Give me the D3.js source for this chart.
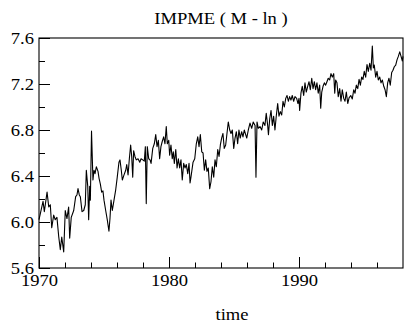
<!DOCTYPE html>
<html><head><meta charset="utf-8">
<script src="https://cdn.jsdelivr.net/npm/d3@7"></script>
<style>
html,body{margin:0;padding:0;background:#fff;}
</style>
</head><body>
<svg id="c" width="404" height="328"></svg>
<script>
const title = "IMPME ( M - ln )";
const xLabel = "time";
const xMajorTicks = [1970, 1980, 1990];
const xMinorTicks = [1972, 1974, 1976, 1978, 1982, 1984, 1986, 1988, 1992, 1994, 1996];
const yMajorTicks = [5.6, 6.0, 6.4, 6.8, 7.2, 7.6];
const yMinorTicks = [5.8, 6.2, 6.6, 7.0, 7.4];
const years = [
1970.00,1970.31,1970.41,1970.62,1970.75,1970.87,1970.98,1971.13,1971.25,1971.38,1971.52,1971.64,1971.75,1971.90,
1972.02,1972.15,1972.28,1972.36,1972.48,1972.67,1972.82,1972.92,1973.00,1973.10,1973.18,1973.31,1973.44,1973.56,
1973.64,1973.75,1973.82,1973.90,1973.95,1974.04,1974.15,1974.23,1974.31,1974.41,1974.54,1974.62,1974.72,1974.82,
1974.92,1975.00,1975.13,1975.25,1975.38,1975.46,1975.54,1975.64,1975.77,1975.90,1976.02,1976.15,1976.23,1976.33,
1976.41,1976.54,1976.67,1976.75,1976.85,1976.95,1977.05,1977.13,1977.21,1977.28,1977.38,1977.48,1977.62,1977.75,
1977.85,1977.98,1978.10,1978.18,1978.25,1978.33,1978.44,1978.54,1978.62,1978.75,1978.87,1978.98,1979.08,1979.18,
1979.28,1979.38,1979.48,1979.59,1979.69,1979.79,1979.87,1979.98,1980.05,1980.15,1980.25,1980.33,1980.41,1980.52,
1980.62,1980.72,1980.82,1980.92,1981.02,1981.13,1981.23,1981.33,1981.44,1981.54,1981.62,1981.69,1981.85,1981.98,
1982.10,1982.21,1982.31,1982.41,1982.52,1982.62,1982.72,1982.82,1982.92,1983.02,1983.13,1983.23,1983.33,1983.44,
1983.54,1983.64,1983.75,1983.85,1983.95,1984.05,1984.15,1984.25,1984.36,1984.46,1984.56,1984.67,1984.77,1984.87,
1984.98,1985.08,1985.18,1985.28,1985.38,1985.48,1985.59,1985.69,1985.79,1985.98,1986.10,1986.23,1986.36,1986.48,
1986.62,1986.69,1986.77,1986.87,1987.00,1987.13,1987.25,1987.38,1987.48,1987.59,1987.65,1987.75,1987.85,1987.95,
1988.05,1988.15,1988.25,1988.36,1988.46,1988.56,1988.67,1988.77,1988.87,1988.98,1989.08,1989.18,1989.28,1989.38,
1989.48,1989.59,1989.69,1989.82,1989.92,1990.00,1990.05,1990.15,1990.25,1990.36,1990.46,1990.56,1990.67,1990.77,
1990.87,1990.98,1991.08,1991.18,1991.28,1991.38,1991.48,1991.59,1991.67,1991.75,1991.85,1991.95,1992.05,1992.15,
1992.25,1992.36,1992.46,1992.56,1992.67,1992.75,1992.82,1992.92,1993.02,1993.13,1993.23,1993.33,1993.44,1993.54,
1993.64,1993.75,1993.85,1993.98,1994.10,1994.21,1994.31,1994.41,1994.52,1994.62,1994.72,1994.82,1994.92,1995.02,
1995.13,1995.23,1995.33,1995.44,1995.54,1995.64,1995.72,1995.79,1995.90,1996.00,1996.10,1996.21,1996.31,1996.41,
1996.52,1996.62,1996.72,1996.82,1996.92,1997.02,1997.13,1997.23,1997.33,1997.44,1997.54,1997.64,1997.75,1997.85,
1997.95,1998.00];
const values = [
6.02,6.18,6.09,6.26,6.13,6.15,5.95,6.06,6.02,6.04,5.87,5.76,5.87,5.74,
6.10,6.03,6.13,5.86,6.04,6.10,6.22,6.235,6.29,6.235,6.22,6.09,6.10,6.15,
6.45,6.31,6.02,6.31,6.19,6.79,6.365,6.45,6.42,6.48,6.44,6.38,6.33,6.26,
6.27,6.19,6.10,6.02,5.92,6.03,6.19,6.10,6.19,6.28,6.39,6.52,6.54,6.45,
6.365,6.41,6.45,6.50,6.41,6.55,6.67,6.57,6.39,6.62,6.57,6.54,6.55,6.52,
6.55,6.54,6.53,6.655,6.16,6.655,6.55,6.54,6.51,6.64,6.68,6.76,6.655,6.71,
6.55,6.655,6.70,6.74,6.68,6.83,6.68,6.71,6.58,6.67,6.55,6.61,6.51,6.63,
6.47,6.55,6.47,6.54,6.365,6.51,6.47,6.50,6.42,6.51,6.34,6.39,6.52,6.55,
6.68,6.74,6.655,6.76,6.61,6.60,6.45,6.54,6.44,6.47,6.29,6.35,6.48,6.39,
6.54,6.48,6.63,6.57,6.67,6.73,6.77,6.64,6.67,6.77,6.87,6.80,6.77,6.80,
6.64,6.73,6.785,6.68,6.80,6.73,6.785,6.74,6.80,6.73,6.80,6.86,6.815,6.87,
6.84,6.39,6.87,6.815,6.83,6.80,6.87,6.84,6.945,6.84,6.76,6.90,6.97,6.84,
6.92,6.80,6.92,7.03,6.92,6.96,6.93,7.05,7.00,7.075,7.10,7.05,7.09,7.06,
7.10,7.05,7.09,7.075,7.03,7.075,6.97,7.12,7.18,7.10,7.21,7.13,7.18,7.22,
7.15,7.25,7.16,7.22,7.15,7.21,7.12,7.19,6.99,7.13,7.18,7.21,7.19,7.22,
7.25,7.235,7.29,7.26,7.29,7.12,7.235,7.21,7.09,7.16,7.05,7.15,7.075,7.05,
7.13,7.03,7.08,7.10,7.07,7.15,7.12,7.19,7.16,7.24,7.19,7.26,7.24,7.31,
7.26,7.37,7.31,7.38,7.32,7.53,7.34,7.365,7.26,7.31,7.235,7.26,7.21,7.235,
7.18,7.15,7.09,7.21,7.25,7.19,7.30,7.32,7.35,7.365,7.41,7.44,7.48,7.44,
7.40,7.44];

const FONT = "'Liberation Serif', 'Times New Roman', serif";
const FS = 16, SX = 1.16;   // glyphs in the reference are slightly wide
const svg = d3.select("#c");
const L = 39, R = 403, T = 38, B = 268;
const x = d3.scaleLinear().domain([1970, 1998]).range([L, R]);
const y = d3.scaleLinear().domain([5.6, 7.6]).range([B, T]);

// frame
svg.append("rect").attr("x", L).attr("y", T).attr("width", R - L).attr("height", B - T)
  .attr("fill", "none").attr("stroke", "#000").attr("stroke-width", 1.1);

// x axis ticks (inward)
const gxMinor = svg.append("g").attr("transform", `translate(0,${B})`)
  .call(d3.axisBottom(x).tickValues(xMinorTicks).tickSize(-5.5).tickFormat(""));
const gx = svg.append("g").attr("transform", `translate(0,${B})`)
  .call(d3.axisBottom(x).tickValues(xMajorTicks).tickSize(-11).tickFormat(d3.format("d")));
// y axis ticks (inward)
const gyMinor = svg.append("g").attr("transform", `translate(${L},0)`)
  .call(d3.axisLeft(y).tickValues(yMinorTicks).tickSize(-6).tickFormat(""));
const gy = svg.append("g").attr("transform", `translate(${L},0)`)
  .call(d3.axisLeft(y).tickValues(yMajorTicks).tickSize(-11).tickFormat(d3.format(".1f")));

[gxMinor, gx, gyMinor, gy].forEach(g => {
  g.select(".domain").remove();
  g.selectAll(".tick line").attr("stroke", "#000").attr("stroke-width", 1);
  g.selectAll("text").style("font-family", FONT).style("font-size", FS + "px").attr("fill", "#000");
});
gx.selectAll("text").attr("x", 0).attr("y", 0).attr("dy", null)
  .attr("transform", `translate(0,17.7) scale(${SX},1)`);
gy.selectAll("text").attr("x", 0).attr("y", 0).attr("dy", null)
  .attr("transform", `translate(-5,5.5) scale(${SX},1)`);

// series line
const line = d3.line().x((d, i) => x(years[i])).y(d => y(d));
svg.append("path").datum(values).attr("d", line)
  .attr("fill", "none").attr("stroke", "#000").attr("stroke-width", 1.1).attr("stroke-linejoin", "round");

// title and x label
svg.append("text").attr("transform", `translate(221,24) scale(${SX},1)`).attr("text-anchor", "middle")
  .style("font-family", FONT).style("font-size", FS + "px").text(title);
svg.append("text").attr("transform", `translate(232,320) scale(${SX},1)`).attr("text-anchor", "middle")
  .style("font-family", FONT).style("font-size", FS + "px").text(xLabel);
</script>
</body></html>
